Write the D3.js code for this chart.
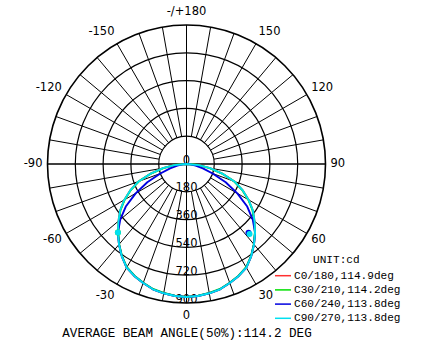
<!DOCTYPE html>
<html><head><meta charset="utf-8">
<script src="https://cdn.jsdelivr.net/npm/d3@7"></script>
<style>html,body{margin:0;padding:0;background:#fff;}svg{display:block;}</style>
</head><body>
<svg id="c" width="423" height="346"></svg>
<script>
// ---- data ----
const angles = [-90,-85,-80,-75,-70,-65,-60,-55,-50,-45,-40,-35,-30,-25,-20,-15,-10,-5,0,5,10,15,20,25,30,35,40,45,50,55,60,65,70,75,80,85,90];
const outerSide = [0,80,155,240,330,400,465,525,575,628,680,730,775,800,820,840,850,858,861];
const innerSide = [0,25,60,110,180,280,380,480,560,628,680,730,775,800,820,840,850,858,861];
const c0   = outerSide.concat(outerSide.slice(0,-1).reverse());
const c30  = [0,78,152,238,328,398,462,522,572,626,678,728,772,798,818,838,848,856,860,856,848,838,818,798,772,728,678,626,572,522,462,398,328,238,152,78,0];
const c60  = innerSide.concat(innerSide.slice(0,-1).reverse());
const c90  = outerSide.concat(outerSide.slice(0,-1).reverse());
const seriesNames  = ["C0/180,114.9deg","C30/210,114.2deg","C60/240,113.8deg","C90/270,113.8deg"];
const seriesColors = ["#ff3030","#00e000","#0000e0","#00e0f0"];
const seriesValues = [c0, c30, c60, c90];
// marker dots: [seriesIndex, angle, value]
const markers = [[1,-45,628],[3,-45,628],[2,42,600],[3,42,610]];
const ringValues = [180,360,540,720,900];
const angleTicks = [-150,-120,-90,-60,-30,0,30,60,90,120,150,180];
const angleTickLabels = ["-150","-120","-90","-60","-30","0","30","60","90","120","150","-/+180"];
const unitLabel = "UNIT:cd";
const footer = "AVERAGE BEAM ANGLE(50%):114.2 DEG";

// ---- layout ----
const cx = 186.5, cy = 164, R = 139;
const r = d3.scaleLinear().domain([0,900]).range([0,R]);
const toRad = d => d*Math.PI/180;
const theta = a => Math.PI - toRad(a); // 0 deg at bottom, + to the right

const svg = d3.select("#c");
const g = svg.append("g").attr("transform",`translate(${cx},${cy})`);
const sansFont = "DejaVu Sans, sans-serif";
const monoFont = "Liberation Mono, Courier New, monospace";

// rings
g.selectAll("circle.ring").data(ringValues).join("circle")
  .attr("r", d=>r(d)).attr("fill","none").attr("stroke","#000")
  .attr("stroke-width", (d,i)=> i===ringValues.length-1 ? 1.6 : 1.2);

// spokes every 10 deg (from first ring)
const spokes = d3.range(-170,181,10).filter(a=>a!==0 && a!==180 && a!==90 && a!==-90);
g.selectAll("line.spoke").data(spokes).join("line")
  .attr("x1",a=>r(ringValues[0])*Math.sin(toRad(a)))
  .attr("y1",a=>r(ringValues[0])*Math.cos(toRad(a)))
  .attr("x2",a=>R*Math.sin(toRad(a)))
  .attr("y2",a=>R*Math.cos(toRad(a)))
  .attr("stroke","#000").attr("stroke-width",1);
// full axes
g.append("line").attr("x1",-R).attr("x2",R).attr("y1",0).attr("y2",0).attr("stroke","#000").attr("stroke-width",1.3);
g.append("line").attr("x1",0).attr("x2",0).attr("y1",-R).attr("y2",R).attr("stroke","#000").attr("stroke-width",1);

// ring labels
g.selectAll("text.rl").data(ringValues).join("text")
  .attr("x",0).attr("y",d=>r(d)-4.5)
  .attr("text-anchor","middle").attr("dominant-baseline","central")
  .attr("font-family",sansFont).attr("font-size",11.5).attr("fill","#000")
  .text(d=>d);
// center "0"
g.append("text").attr("x",0).attr("y",-4.5).attr("text-anchor","middle").attr("dominant-baseline","central")
  .attr("font-family",sansFont).attr("font-size",11.5).text("0");

// angle labels
svg.selectAll("text.al").data(angleTicks).join("text")
  .attr("x",(a)=> cx + 144*Math.sin(toRad(a)))
  .attr("y",(a)=> cy + 152*Math.cos(toRad(a)) - 1)
  .attr("text-anchor",a=> (a===0||a===180) ? "middle" : (a<0 ? "end" : "start"))
  .attr("dominant-baseline","central")
  .attr("font-family",sansFont).attr("font-size",11.5).attr("fill","#000")
  .text((a,i)=>angleTickLabels[i]);

// curves
const line = d3.lineRadial().angle(d=>theta(d[0])).radius(d=>r(d[1]));
seriesValues.forEach((vals,si)=>{
  const pts = angles.map((a,i)=>[a,vals[i]]);
  g.append("path").attr("d",line(pts)).attr("fill","none")
    .attr("stroke",seriesColors[si]).attr("stroke-width",1.9).attr("stroke-linejoin","round");
});
g.selectAll("circle.mk").data(markers).join("circle")
  .attr("cx",d=>r(d[2])*Math.sin(toRad(d[1])))
  .attr("cy",d=>r(d[2])*Math.cos(toRad(d[1])))
  .attr("r",3).attr("fill",d=>seriesColors[d[0]]);

// legend
svg.append("text").attr("x",313).attr("y",260).attr("dominant-baseline","central")
  .attr("font-family",monoFont).attr("font-size",11.1).text(unitLabel);
const lg = svg.selectAll("g.lg").data(seriesNames).join("g")
  .attr("transform",(d,i)=>`translate(0,${275.7+i*14.2})`);
lg.append("line").attr("x1",275).attr("x2",291).attr("y1",0).attr("y2",0)
  .attr("stroke",(d,i)=>seriesColors[i]).attr("stroke-width",1.5);
lg.append("text").attr("x",294).attr("y",0).attr("dominant-baseline","central")
  .attr("font-family",monoFont).attr("font-size",11.1).text(d=>d);

// footer
svg.append("text").attr("x",187).attr("y",334).attr("text-anchor","middle").attr("dominant-baseline","central")
  .attr("font-family",monoFont).attr("font-size",12.6).text(footer);
</script>
</body></html>
